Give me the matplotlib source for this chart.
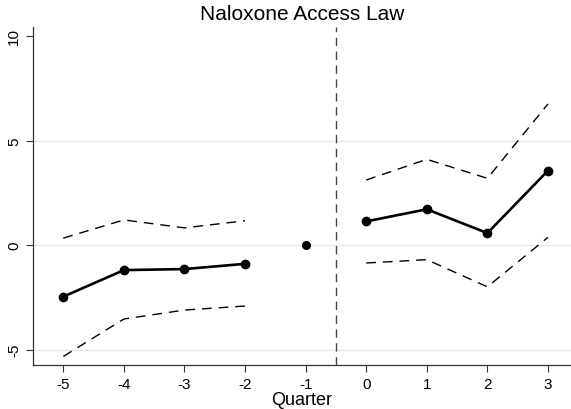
import matplotlib
matplotlib.use("Agg")
import matplotlib.pyplot as plt

plt.rcParams['font.family'] = ['Liberation Sans', 'DejaVu Sans']
plt.rcParams['axes.unicode_minus'] = False

quarters_pre = [-5, -4, -3, -2]
est_pre = [-2.47, -1.2, -1.15, -0.9]
upper_pre = [0.33, 1.2, 0.82, 1.16]
lower_pre = [-5.33, -3.54, -3.11, -2.92]

ref_quarter = [-1]
ref_est = [0.0]

quarters_post = [0, 1, 2, 3]
est_post = [1.13, 1.71, 0.57, 3.56]
upper_post = [3.11, 4.1, 3.19, 6.75]
lower_post = [-0.86, -0.7, -2.0, 0.37]

xticks = [-5, -4, -3, -2, -1, 0, 1, 2, 3]
yticks = [-5, 0, 5, 10]

fig = plt.figure(figsize=(5.71, 4.10), dpi=100)
ax = fig.add_axes([33/571, 1-366/410, 1-33/571, (366-28)/410])

for y in [-5, 0, 5]:
    ax.axhline(y, color='#e6e6e6', lw=0.9, zorder=0)

ax.axvline(-0.5, color='#444444', lw=1.0, dashes=(6, 4), zorder=1)

for q, lo, hi in [(quarters_pre, lower_pre, upper_pre), (quarters_post, lower_post, upper_post)]:
    ax.plot(q, hi, color='black', lw=1.0, dashes=(7, 5))
    ax.plot(q, lo, color='black', lw=1.0, dashes=(7, 5))

ax.plot(quarters_pre, est_pre, color='black', lw=1.9, marker='o', ms=6, zorder=3)
ax.plot(quarters_post, est_post, color='black', lw=1.9, marker='o', ms=6, zorder=3)
ax.plot(ref_quarter, ref_est, color='black', lw=0, marker='o', ms=5.5, zorder=3)

ax.set_xlim(-5.5, 3.38)
ax.set_ylim(-5.74, 10.43)
ax.set_xticks(xticks)
ax.set_yticks(yticks)
ax.tick_params(axis='both', labelsize=11, color='#333333', length=5, width=0.8)
for lab in ax.get_yticklabels():
    lab.set_rotation(90)
    lab.set_va('center')
ax.spines['top'].set_visible(False)
ax.spines['right'].set_visible(False)
for s in ['left', 'bottom']:
    ax.spines[s].set_color('#333333')
    ax.spines[s].set_linewidth(0.9)

ax.set_xlabel('Quarter', fontsize=13, labelpad=0)
ax.set_title('Naloxone Access Law', fontsize=15, pad=6)

fig.savefig('out.png', dpi=100)
